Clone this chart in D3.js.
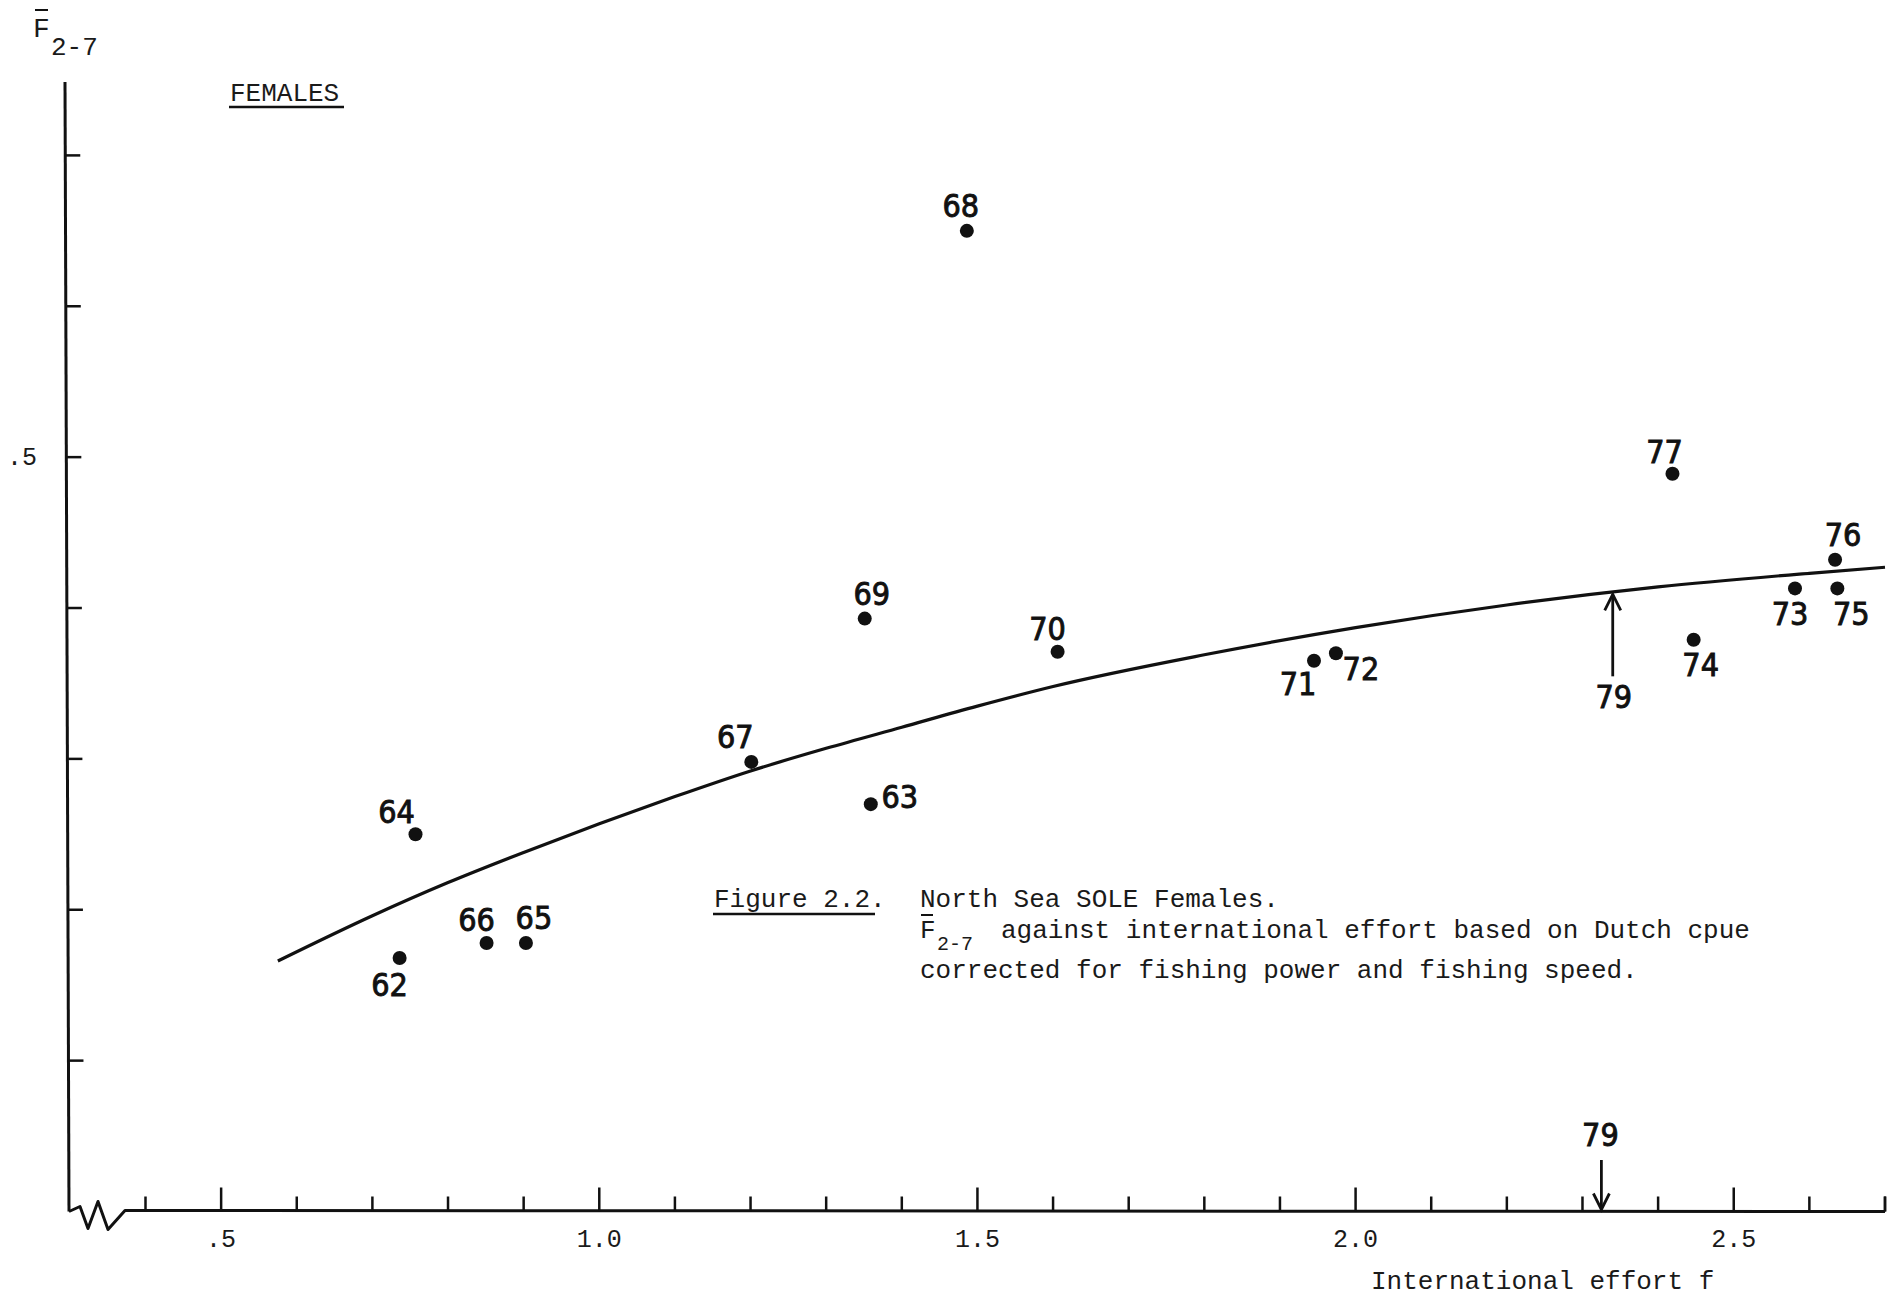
<!DOCTYPE html>
<html>
<head>
<meta charset="utf-8">
<script src="https://cdn.jsdelivr.net/npm/d3@7/dist/d3.min.js"></script>
<style>
  html, body { margin: 0; padding: 0; background: #fff; }
  svg { display: block; }
  .mono { font-family: "Liberation Mono", "DejaVu Sans Mono", monospace; fill: #1a1a1a; }
  .lab { font-family: "DejaVu Sans Condensed", "DejaVu Sans", sans-serif; fill: #111; stroke: #111; stroke-width: 0.9px; }
</style>
</head>
<body>
<svg id="chart" width="1891" height="1299"></svg>
<script>
// ---- data ----
const years   = ["62","63","64","65","66","67","68","69","70","71","72","73","74","75","76","77"];
const effort  = [0.736,1.359,0.757,0.903,0.851,1.201,1.486,1.351,1.606,1.945,1.974,2.581,2.447,2.637,2.634,2.419];
const fbar    = [0.168,0.270,0.250,0.178,0.178,0.298,0.650,0.393,0.371,0.365,0.370,0.413,0.379,0.413,0.432,0.489];

// fitted curve
const curveEffort = [0.575,0.7,0.8,0.9,1.0,1.1,1.2,1.3,1.4,1.5,1.6,1.8,2.0,2.2,2.4,2.6,2.7];
const curveFbar   = [0.166,0.196,0.218,0.238,0.257,0.275,0.292,0.307,0.321,0.335,0.348,0.369,0.387,0.402,0.414,0.423,0.427];

// 1979 effort markers
const effort79OnCurve = 2.34;
const effort79OnAxis  = 2.325;

// axis ticks
const xTicks      = d3.range(4, 28).map(d => d / 10);
const xMajorTicks = [0.5, 1.0, 1.5, 2.0, 2.5];
const xTickLabels = [".5", "1.0", "1.5", "2.0", "2.5"];
const yTicks      = [0.1, 0.2, 0.3, 0.4, 0.5, 0.6, 0.7];
const yTickLabels = [{v: 0.5, t: ".5"}];

// ---- label placement (layout only) ----
const labelOffset = {
  "62": [-10, 27], "63": [29, -7], "64": [-19, -22], "65": [8, -25], "66": [-10, -23],
  "67": [-16, -25], "68": [-6, -25], "69": [7, -25], "70": [-10, -23], "71": [-16, 23],
  "72": [25, 16], "73": [-5, 26], "74": [7, 25], "75": [14, 26], "76": [8, -25], "77": [-8, -22]
};

const svg = d3.select("#chart");
const x = d3.scaleLinear().domain([0.4, 2.7]).range([145.5, 1885]);
const y = d3.scaleLinear().domain([0, 0.7]).range([1211.5, 155.4]);

const ink = "#111";
const axisTop = 82;
// y axis is drawn very slightly slanted, as in the scan
const axisXAt = v => 65 + (y(v) - axisTop) / (y(0) - axisTop) * 4;

// y axis line
svg.append("line").attr("x1", 65).attr("x2", axisXAt(0))
  .attr("y1", axisTop).attr("y2", y(0))
  .attr("stroke", ink).attr("stroke-width", 3);

// y ticks
svg.selectAll(".ytick").data(yTicks).join("line")
  .attr("x1", d => axisXAt(d)).attr("x2", d => axisXAt(d) + 15)
  .attr("y1", d => y(d)).attr("y2", d => y(d))
  .attr("stroke", ink).attr("stroke-width", 2.5);

svg.selectAll(".ylab").data(yTickLabels).join("text")
  .attr("class", "mono")
  .attr("x", 37).attr("y", d => y(d.v) + 8)
  .attr("text-anchor", "end")
  .attr("font-size", 25).text(d => d.t);

// x axis with break
const y0 = y(0);
const cx0 = axisXAt(0);
svg.append("path")
  .attr("d", `M${cx0},${y0} L${cx0+11},${y0-5} L${cx0+19},${y0+17} L${cx0+29},${y0-10} L${cx0+39},${y0+18} L${cx0+56},${y0-1} L${x(2.7)},${y0}`)
  .attr("fill", "none").attr("stroke", ink).attr("stroke-width", 3)
  .attr("stroke-linejoin", "round");

svg.selectAll(".xtick").data(xTicks.concat([2.7])).join("line")
  .attr("x1", d => x(d)).attr("x2", d => x(d))
  .attr("y1", y0).attr("y2", d => xMajorTicks.some(m => Math.abs(m - d) < 1e-6) ? y0 - 24 : y0 - 15)
  .attr("stroke", ink).attr("stroke-width", 2.5);

svg.selectAll(".xlab").data(xMajorTicks).join("text")
  .attr("class", "mono")
  .attr("x", d => x(d)).attr("y", 1247)
  .attr("text-anchor", "middle").attr("font-size", 25)
  .text((d, i) => xTickLabels[i]);

svg.append("text").attr("class", "mono")
  .attr("x", 1371).attr("y", 1289).attr("font-size", 26)
  .text("International effort f");

// y axis title F-bar 2-7
svg.append("text").attr("class", "mono").attr("x", 33).attr("y", 37).attr("font-size", 28).text("F");
svg.append("line").attr("x1", 35).attr("x2", 48).attr("y1", 10).attr("y2", 10).attr("stroke", ink).attr("stroke-width", 2);
svg.append("text").attr("class", "mono").attr("x", 51).attr("y", 55).attr("font-size", 26).text("2-7");

// FEMALES
svg.append("text").attr("class", "mono").attr("x", 230).attr("y", 101).attr("font-size", 26).text("FEMALES");
svg.append("line").attr("x1", 229).attr("x2", 344).attr("y1", 107).attr("y2", 107).attr("stroke", ink).attr("stroke-width", 2.5);

// caption
const cap = svg.append("g").attr("class", "mono").attr("font-size", 26);
cap.append("text").attr("x", 714).attr("y", 907).text("Figure 2.2.");
cap.append("line").attr("x1", 713).attr("x2", 875).attr("y1", 914).attr("y2", 914).attr("stroke", ink).attr("stroke-width", 2.5);
cap.append("text").attr("x", 920).attr("y", 907).text("North Sea SOLE Females.");
cap.append("text").attr("x", 920).attr("y", 938).text("F");
cap.append("line").attr("x1", 921).attr("x2", 933).attr("y1", 915).attr("y2", 915).attr("stroke", ink).attr("stroke-width", 2);
cap.append("text").attr("x", 937).attr("y", 950).attr("font-size", 20).text("2-7");
cap.append("text").attr("x", 1001).attr("y", 938).text("against international effort based on Dutch cpue");
cap.append("text").attr("x", 920).attr("y", 978).text("corrected for fishing power and fishing speed.");

// fitted curve
const curvePts = curveEffort.map((e, i) => [e, curveFbar[i]]);
const line = d3.line().x(d => x(d[0])).y(d => y(d[1])).curve(d3.curveMonotoneX);
svg.append("path").attr("d", line(curvePts))
  .attr("fill", "none").attr("stroke", ink).attr("stroke-width", 3.2);

// points
const pts = years.map((yr, i) => ({yr, e: effort[i], f: fbar[i]}));
svg.selectAll(".dot").data(pts).join("circle")
  .attr("cx", d => x(d.e)).attr("cy", d => y(d.f)).attr("r", 7).attr("fill", ink);
svg.selectAll(".plab").data(pts).join("text")
  .attr("class", "lab")
  .attr("x", d => x(d.e) + labelOffset[d.yr][0])
  .attr("y", d => y(d.f) + labelOffset[d.yr][1])
  .attr("text-anchor", "middle").attr("dominant-baseline", "central")
  .attr("font-size", 32).text(d => d.yr);

// 1979 arrow on curve
const interp = d3.scaleLinear().domain(curveEffort).range(curveFbar);
const ax = x(effort79OnCurve), tipY = y(interp(effort79OnCurve)) + 2;
svg.append("line").attr("x1", ax).attr("x2", ax).attr("y1", tipY).attr("y2", tipY + 82)
  .attr("stroke", ink).attr("stroke-width", 2.8);
svg.append("path").attr("d", `M${ax-8},${tipY+16} L${ax},${tipY} L${ax+8},${tipY+16}`)
  .attr("fill", "none").attr("stroke", ink).attr("stroke-width", 2.8);
svg.append("text").attr("class", "lab").attr("x", ax + 1).attr("y", tipY + 103)
  .attr("text-anchor", "middle").attr("dominant-baseline", "central").attr("font-size", 32).text("79");

// 1979 arrow on axis
const bx = x(effort79OnAxis);
svg.append("line").attr("x1", bx).attr("x2", bx).attr("y1", 1160).attr("y2", y0 - 2)
  .attr("stroke", ink).attr("stroke-width", 2.8);
svg.append("path").attr("d", `M${bx-8},${y0-18} L${bx},${y0-2} L${bx+8},${y0-18}`)
  .attr("fill", "none").attr("stroke", ink).attr("stroke-width", 2.8);
svg.append("text").attr("class", "lab").attr("x", bx - 1).attr("y", 1135)
  .attr("text-anchor", "middle").attr("dominant-baseline", "central").attr("font-size", 32).text("79");
</script>
</body>
</html>
